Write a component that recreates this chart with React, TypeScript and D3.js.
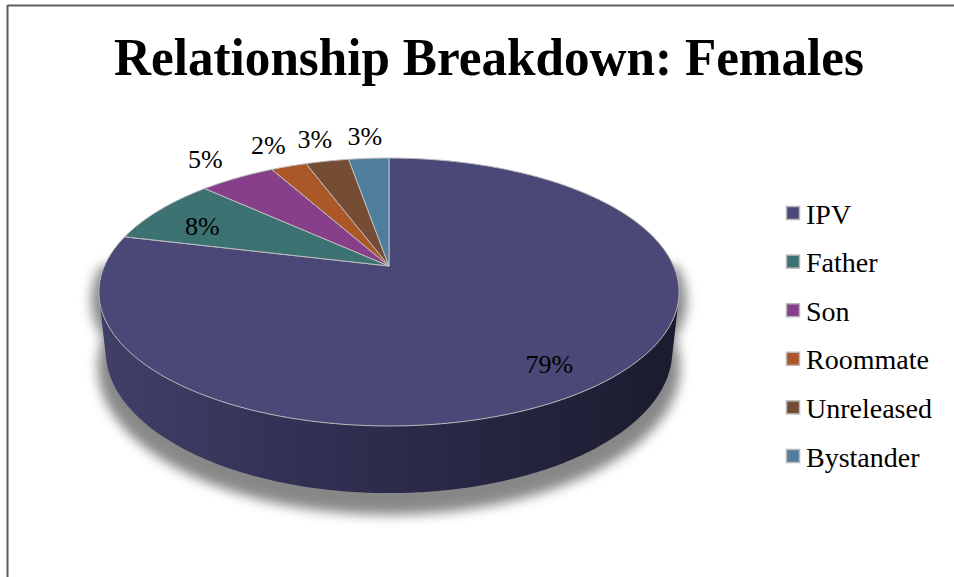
import React from "react";
import * as d3 from "d3";

const categories = ["IPV", "Father", "Son", "Roommate", "Unreleased", "Bystander"];
const values = [78.8, 8.1, 5.1, 2.4, 2.9, 2.7];
const colors = ["#4a4877", "#3c7272", "#883f8a", "#ac5728", "#744d34", "#4f7e9c"];
const title = "Relationship Breakdown: Females";

const W = 954, H = 577;
// perspective pie parameters (radius units)
const CX = 389, CY = 266, F = 1307, DIST = 4.593;
const ELEV = Math.asin(0.453);
const COS_E = Math.cos(ELEV), SIN_E = Math.sin(ELEV);
const THICK = 0.234;

function project(r: number, pieAng: number, z: number): [number, number] {
  const m = Math.PI / 2 - pieAng;
  const X = r * Math.cos(m), Y = r * Math.sin(m);
  const up = Y * SIN_E + z * COS_E;
  const d = DIST + Y * COS_E - z * SIN_E;
  return [CX + (F * X) / d, CY - (F * up) / d];
}

function arcPts(r: number, a0: number, a1: number, z: number) {
  const n = Math.max(2, Math.ceil(Math.abs(a1 - a0) / 0.01));
  const pts: [number, number][] = [];
  for (let i = 0; i <= n; i++) pts.push(project(r, a0 + ((a1 - a0) * i) / n, z));
  return pts;
}

const line = d3.line<[number, number]>();
const SERIF = "'Liberation Serif', 'Times New Roman', serif";

export default function App() {
  const pie = d3.pie<number>().sort(null).startAngle(0).endAngle(2 * Math.PI);
  const arcs = pie(values);
  const total = d3.sum(values);

  const s = 1 / (DIST * COS_E);
  const visLo = Math.PI / 2 + Math.asin(s);
  const visHi = (3 * Math.PI) / 2 - Math.asin(s);

  const center = project(0, 0, 0);

  const legendY = d3.scalePoint<string>().domain(categories).range([213, 456]);

  const shadowPath = line(arcPts(1.03, 0, 2 * Math.PI, -THICK - 0.03))! + "Z";
  const shadowTop = line(arcPts(1.025, visLo - 0.3, visHi + 0.3, 0))! + "Z";

  return (
    <svg
      width={W}
      height={H}
      style={{ position: "absolute", left: 0, top: 0, background: "#fff" }}
    >
      <defs>
        <linearGradient id="sideGrad" gradientUnits="userSpaceOnUse" x1={100} x2={680} y1={0} y2={0}>
          <stop offset="0" stopColor="#403f68" />
          <stop offset="0.45" stopColor="#2e2d4e" />
          <stop offset="1" stopColor="#1b1b2e" />
        </linearGradient>
        <filter id="blur" x="-20%" y="-20%" width="140%" height="140%">
          <feGaussianBlur stdDeviation="6" />
        </filter>
      </defs>

      {/* frame */}
      <line x1={7.5} y1={5.5} x2={W} y2={5.5} stroke="#5e5e5e" strokeWidth={2} />
      <line x1={7.5} y1={5} x2={7.5} y2={H} stroke="#5e5e5e" strokeWidth={2} />

      <text
        x={489}
        y={75}
        textAnchor="middle"
        fontFamily={SERIF}
        fontWeight="bold"
        fontSize={52}
        textLength={750}
        lengthAdjust="spacingAndGlyphs"
        fill="#000"
      >
        {title}
      </text>

      {/* shadow */}
      <g filter="url(#blur)" opacity={0.8} transform="translate(0,7)">
        <path d={shadowPath} fill="#6a6a6a" />
        <path d={shadowTop} fill="#6a6a6a" />
      </g>

      {/* sides */}
      {arcs.map((a, i) => {
        const lo = Math.max(a.startAngle, visLo);
        const hi = Math.min(a.endAngle, visHi);
        if (hi <= lo) return null;
        const top = arcPts(1, lo, hi, 0);
        const bot = arcPts(1, hi, lo, -THICK);
        return (
          <path
            key={"side" + i}
            d={line([...top, ...bot])! + "Z"}
            fill={i === 0 ? "url(#sideGrad)" : d3.color(colors[i])!.darker(1.2).toString()}
          />
        );
      })}

      {/* top faces */}
      {arcs.map((a, i) => {
        const pts = [center, ...arcPts(1, a.startAngle, a.endAngle, 0)];
        return (
          <path
            key={"top" + i}
            d={line(pts)! + "Z"}
            fill={colors[i]}
            stroke="#bdbdbd"
            strokeWidth={1}
            strokeLinejoin="round"
          />
        );
      })}

      {/* labels */}
      {arcs.map((a, i) => {
        const mid = (a.startAngle + a.endAngle) / 2;
        const inside = a.value / total >= 0.06;
        const [x, y] = project(inside ? 0.8 : 1.25, mid, 0);
        return (
          <text
            key={"lab" + i}
            x={x}
            y={y + (inside ? 6 : 0)}
            textAnchor="middle"
            dominantBaseline="central"
            fontFamily={SERIF}
            fontSize={26}
            fill="#000"
          >
            {Math.round((a.value / total) * 100) + "%"}
          </text>
        );
      })}

      {/* legend */}
      {categories.map((c, i) => {
        const y = legendY(c)!;
        return (
          <g key={"leg" + i}>
            <rect x={786.5} y={y - 6.5} width={13} height={13} fill={colors[i]} stroke="#b8b8b8" strokeWidth={1.5} />
            <text
              x={806}
              y={y + 1}
              dominantBaseline="central"
              fontFamily={SERIF}
              fontSize={28}
              fill="#000"
            >
              {c}
            </text>
          </g>
        );
      })}
    </svg>
  );
}
